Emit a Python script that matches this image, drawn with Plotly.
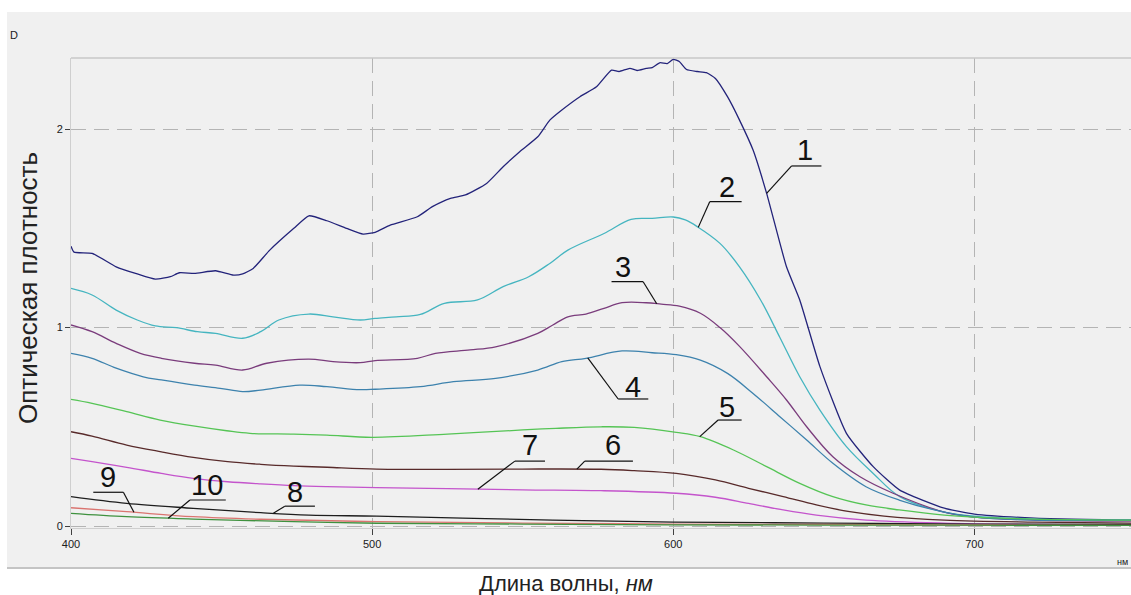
import numpy as np
import plotly.graph_objects as go

# Absorption spectra: wavelength (nm) and optical density for samples 1..10
wl_1 = [400, 401, 407, 415, 422, 428, 433, 436, 441, 448, 454, 457, 460.5, 466, 474, 479,
        485, 491.5, 497, 501, 506, 515, 520, 526, 531, 538, 543.5, 549, 555, 559, 563, 569,
        574.5, 579.5, 582, 585.6, 588, 591, 593, 595.5, 598, 600, 602, 604.4, 608, 611, 614,
        618, 622, 626.5, 631, 637.6, 642, 648.7, 657.5, 666.4, 675.2, 690, 700, 720, 752]
d_1 = [1.41, 1.38, 1.374, 1.306, 1.27, 1.244, 1.256, 1.276, 1.273, 1.286, 1.264, 1.27, 1.298,
       1.39, 1.50, 1.563, 1.538, 1.50, 1.471, 1.48, 1.516, 1.558, 1.609, 1.651, 1.668, 1.726,
       1.81, 1.886, 1.961, 2.045, 2.096, 2.163, 2.213, 2.297, 2.29, 2.306, 2.295, 2.306, 2.31,
       2.334, 2.33, 2.351, 2.34, 2.30, 2.29, 2.284, 2.255, 2.163, 2.045, 1.894, 1.676, 1.306,
       1.139, 0.803, 0.467, 0.299, 0.181, 0.09, 0.06, 0.04, 0.03]

wl_2 = [400, 407, 415, 422, 428, 435, 442, 448, 457, 463, 469, 479, 487, 496, 501, 508, 516,
        524, 535, 543.5, 552, 559, 565, 577, 586, 593, 600, 604, 608, 615.5, 622, 629, 635.4,
        642, 648.7, 657.5, 666.4, 675.2, 690, 700, 720, 752]
d_2 = [1.197, 1.164, 1.088, 1.038, 1.008, 0.999, 0.979, 0.971, 0.946, 0.979, 1.038, 1.068,
       1.054, 1.038, 1.046, 1.054, 1.066, 1.122, 1.139, 1.206, 1.256, 1.323, 1.39, 1.474, 1.545,
       1.55, 1.557, 1.542, 1.508, 1.424, 1.306, 1.139, 0.95, 0.752, 0.584, 0.40, 0.265, 0.148,
       0.07, 0.05, 0.035, 0.03]

wl_3 = [400, 407, 415, 423, 430, 441, 448, 457, 465, 479, 487, 496, 501, 515, 521, 532.5, 541,
        555, 560, 565, 571, 577, 583, 591, 596, 602, 609, 615.5, 622, 631, 637.6, 644.3, 653,
        662, 673, 690, 700, 720, 752]
d_3 = [1.013, 0.979, 0.92, 0.87, 0.845, 0.82, 0.811, 0.786, 0.82, 0.841, 0.828, 0.823, 0.833,
       0.845, 0.87, 0.887, 0.903, 0.971, 1.013, 1.054, 1.068, 1.097, 1.125, 1.125, 1.118, 1.108,
       1.072, 1.0, 0.905, 0.752, 0.635, 0.50, 0.349, 0.248, 0.165, 0.07, 0.045, 0.03, 0.025]

wl_4 = [400, 407, 415, 424, 430, 441, 449.5, 457, 463, 476, 485, 496, 501, 516, 527, 541, 555,
        563, 571, 583, 593, 601, 609, 618, 626.5, 635.4, 644.3, 653, 664, 675, 690, 700, 720, 752]
d_4 = [0.87, 0.845, 0.795, 0.752, 0.736, 0.71, 0.694, 0.677, 0.685, 0.71, 0.702, 0.687, 0.689,
       0.702, 0.727, 0.744, 0.786, 0.828, 0.845, 0.882, 0.873, 0.863, 0.836, 0.769, 0.668, 0.551,
       0.433, 0.316, 0.198, 0.131, 0.07, 0.045, 0.03, 0.03]

wl_5 = [400, 407, 418.5, 429.6, 440.6, 451.7, 459.4, 474, 485, 500, 525, 550, 561, 576, 587,
        601, 609, 620, 631, 642, 653, 664, 675, 690, 700, 720, 752]
d_5 = [0.638, 0.618, 0.576, 0.534, 0.504, 0.48, 0.467, 0.463, 0.458, 0.447, 0.463, 0.484, 0.492,
       0.50, 0.497, 0.472, 0.45, 0.383, 0.299, 0.215, 0.148, 0.106, 0.081, 0.055, 0.045, 0.035, 0.03]

wl_6 = [400, 407, 418.5, 430, 440.6, 452, 463, 474, 485, 501.5, 525, 550, 576, 587, 601, 614,
        625, 636.5, 647.5, 658.6, 670, 690, 720, 752]
d_6 = [0.475, 0.453, 0.408, 0.374, 0.346, 0.324, 0.311, 0.302, 0.296, 0.287, 0.285, 0.287, 0.286,
       0.279, 0.265, 0.232, 0.19, 0.148, 0.106, 0.072, 0.05, 0.03, 0.02, 0.015]

wl_7 = [400, 407, 418.5, 430, 440.6, 452, 463, 474, 485, 501.5, 525, 550, 576, 601, 614, 625,
        636.5, 647.5, 664, 690, 720, 752]
d_7 = [0.341, 0.324, 0.296, 0.265, 0.24, 0.223, 0.212, 0.203, 0.198, 0.193, 0.188, 0.182, 0.178,
       0.165, 0.145, 0.114, 0.081, 0.055, 0.03, 0.015, 0.008, 0.005]

wl_8 = [400, 418.5, 440.6, 463, 479, 501.5, 530, 560, 600, 650, 700, 752]
d_8 = [0.148, 0.114, 0.089, 0.067, 0.055, 0.05, 0.04, 0.03, 0.02, 0.015, 0.01, 0.008]

wl_9 = [400, 418.5, 440.6, 463, 501.5, 550, 600, 650, 700, 752]
d_9 = [0.092, 0.072, 0.047, 0.034, 0.022, 0.015, 0.01, 0.008, 0.005, 0.003]

wl_10 = [400, 418.5, 440.6, 474, 501.5, 550, 600, 700, 752]
d_10 = [0.064, 0.047, 0.035, 0.022, 0.014, 0.01, 0.006, 0.004, 0.003]

series_names = ["1", "2", "3", "4", "5", "6", "7", "8", "9", "10"]
series_colors = ["#23237a", "#45b5c0", "#7a3c7c", "#3d82ad", "#55c455",
                 "#582a2a", "#c454cc", "#1e1e1e", "#da7470", "#3f913f"]
series_wl = [wl_1, wl_2, wl_3, wl_4, wl_5, wl_6, wl_7, wl_8, wl_9, wl_10]
series_d = [d_1, d_2, d_3, d_4, d_5, d_6, d_7, d_8, d_9, d_10]

# Curve-number labels: text position, underline span and leader tip wavelength
# (text_wl, text_d, line_wl0, line_wl1, line_d, leader_from_left, tip_wl)
label_layout = [
    (643.7, 1.894, 639.3, 649.2, 1.814, True, 631.0),
    (617.7, 1.709, 612.1, 622.7, 1.634, True, 608.3),
    (583.4, 1.306, 579.5, 590.0, 1.231, False, 594.5),
    (586.7, 0.702, 581.7, 591.7, 0.640, True, 571.6),
    (617.7, 0.601, 614.9, 622.7, 0.534, True, 608.8),
    (580.0, 0.408, 570.6, 586.6, 0.327, True, 568.0),
    (552.4, 0.408, 547.4, 557.4, 0.327, True, 535.1),
    (474.4, 0.173, 471.0, 481.0, 0.100, True, 467.2),
    (412.4, 0.245, 407.4, 417.4, 0.170, False, 420.9),
    (445.0, 0.207, 439.5, 451.4, 0.131, True, 432.3),
]

x_ticks = [400, 500, 600, 700]
y_ticks = [0, 1, 2]

W, H = 1131, 595
L, R, T, B = 71, 0, 58, 67
pw, ph = W - L - R, H - T - B


def px_x(p):
    return (p - L) / pw


def px_y(p):
    return (H - B - p) / ph


fig = go.Figure()
for i, (name, col, xs, ys) in enumerate(zip(series_names, series_colors, series_wl, series_d)):
    fig.add_trace(go.Scatter(x=xs, y=ys, mode="lines", name=name,
                             line=dict(color=col, width=1.3, shape="spline",
                                       smoothing=0.5 if i == 0 else 1.0)))

shapes = []
annotations = []
for (tx, ty, lx0, lx1, ly, from_left, tip), xs, ys, name in zip(
        label_layout, series_wl, series_d, series_names):
    tip_d = float(np.interp(tip, xs, ys))
    start = lx0 if from_left else lx1
    shapes.append(dict(type="line", xref="x", yref="y", x0=lx0, x1=lx1, y0=ly, y1=ly,
                       line=dict(color="#111111", width=1.2)))
    shapes.append(dict(type="line", xref="x", yref="y", x0=start, x1=tip, y0=ly, y1=tip_d,
                       line=dict(color="#111111", width=1.2)))
    annotations.append(dict(x=tx, y=ty, xref="x", yref="y", text=name, showarrow=False,
                            xanchor="center", yanchor="middle",
                            font=dict(family="Liberation Sans, Arial", size=29, color="#111111")))

# gray frame panel behind the plot area
shapes.insert(0, dict(type="rect", xref="paper", yref="paper", layer="below",
                      x0=px_x(7), x1=1.0, y0=px_y(568), y1=px_y(12),
                      fillcolor="#f0f0f0", line=dict(width=0)))
shapes.append(dict(type="line", xref="paper", yref="paper", layer="below",
                   x0=px_x(7), x1=1.0, y0=px_y(568), y1=px_y(568),
                   line=dict(color="#c4c4c4", width=2)))
shapes.append(dict(type="line", xref="paper", yref="paper",
                   x0=0, x1=1.0, y0=1.0, y1=1.0,
                   line=dict(color="#c8c8c8", width=1.5)))

small = dict(family="Liberation Sans, Arial", size=11, color="#202020")
annotations += [
    dict(x=px_x(14), y=px_y(35), xref="paper", yref="paper", text="D", showarrow=False,
         xanchor="center", yanchor="middle", font=small),
    dict(x=px_x(1130), y=px_y(562), xref="paper", yref="paper", text="нм", showarrow=False,
         xanchor="right", yanchor="middle",
         font=dict(family="Liberation Sans, Arial", size=9, color="#202020")),
    dict(x=px_x(28), y=px_y(288), xref="paper", yref="paper", text="Оптическая плотность",
         showarrow=False, textangle=-90, xanchor="center", yanchor="middle",
         font=dict(family="Liberation Sans, Arial", size=26, color="#222222")),
    dict(x=px_x(566), y=px_y(583), xref="paper", yref="paper",
         text="Длина волны, <i>нм</i>", showarrow=False, xanchor="center", yanchor="middle",
         font=dict(family="Liberation Sans, Arial", size=22, color="#222222")),
]

fig.update_layout(
    width=W, height=H,
    margin=dict(l=L, r=R, t=T, b=B, pad=0),
    paper_bgcolor="white", plot_bgcolor="white",
    showlegend=False,
    shapes=shapes, annotations=annotations,
    xaxis=dict(range=[400, 752], tickvals=x_ticks, ticktext=[str(v) for v in x_ticks],
               ticks="outside", ticklen=6, tickcolor="#404040", tickfont=small,
               showgrid=True, gridcolor="#b4b4b4", griddash="15px,8px", gridwidth=1,
               showline=True, linecolor="#cfcfcf", linewidth=1,
               zeroline=False, fixedrange=True),
    yaxis=dict(range=[-0.01, 2.358], tickvals=y_ticks, ticktext=[str(v) for v in y_ticks],
               ticks="outside", ticklen=5, tickcolor="#404040", tickfont=small,
               showgrid=True, gridcolor="#b4b4b4", griddash="15px,8px", gridwidth=1,
               showline=True, linecolor="#cfcfcf", linewidth=1,
               zeroline=False, fixedrange=True),
)

fig.write_html("out.html")
